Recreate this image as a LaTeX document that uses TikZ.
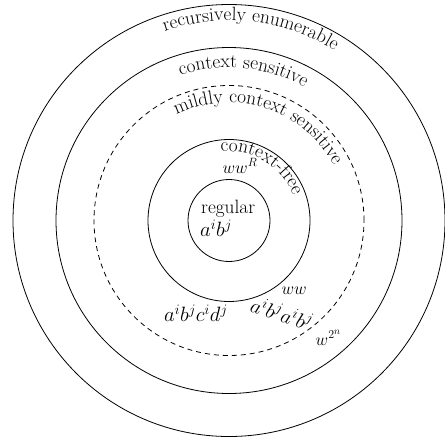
\documentclass[tikz,border=0pt]{standalone}
\usetikzlibrary{decorations.text}
\tikzset{
  ring/.style={circle, draw, line width=0.8pt, inner sep=0pt},
  dashedring/.style={ring, dash pattern=on 5pt off 4pt},
  lbl/.style={inner sep=0pt, anchor=base west},
  wlbl/.style={lbl, font=\fontsize{17.28}{21}\selectfont},
  mathlbl/.style={lbl, font=\fontsize{20.74}{24}\selectfont},
  arclabel/.style={decorate, decoration={text along path, text align=center, text={#1}}}
}
\begin{document}
\fontsize{19.3}{23}\selectfont
\begin{tikzpicture}
\useasboundingbox (0pt,0pt) rectangle (445pt,-440pt);
\coordinate (c) at (229pt,-220.5pt);

% the five language classes, innermost first
\node[ring, minimum size=82pt] (reg) at (c) {};
\node[ring, minimum size=162pt] (cf) at (c) {};
\node[dashedring, minimum size=270pt] (mcs) at (c) {};
\node[ring, minimum size=346pt] (cs) at (c) {};
\node[ring, minimum size=432pt] (re) at (c) {};

% class names set along the inside of each circle
\path[arclabel={recursively enumerable}]
  ([shift={(123.5:200pt)}]c) arc[start angle=123.5, end angle=43.5, radius=200pt];
\path[arclabel={context sensitive}]
  ([shift={(124.5:153pt)}]c) arc[start angle=124.5, end angle=44.5, radius=153pt];
\path[arclabel={mildly context sensitive}]
  ([shift={(132:118pt)}]c) arc[start angle=132, end angle=12, radius=118pt];
\path[arclabel={context-free}]
  ([shift={(114:69pt)}]c) arc[start angle=114, end angle=4, radius=69pt];

% example languages
\node[lbl] (regname) at (201pt,-213.3pt) {regular};
\node[mathlbl] (reglang) at (200pt,-236.7pt) {$a^ib^j$};
\node[wlbl] (cflang) at (222.5pt,-173pt) {$ww^R$};
\node[wlbl] (ww) at (281.5pt,-294.5pt) {$ww$};
\node[mathlbl] (abcd) at (164pt,-321.7pt) {$a^ib^jc^id^j$};
\node[wlbl] (wpow) at (315.5pt,-345pt) {$w^{2^n}$};
\node[inner sep=0pt, rotate=-18, font=\fontsize{20.74}{24}\selectfont] (abab) at (282pt,-313pt) {$a^ib^ja^ib^j$};
\end{tikzpicture}
\end{document}
